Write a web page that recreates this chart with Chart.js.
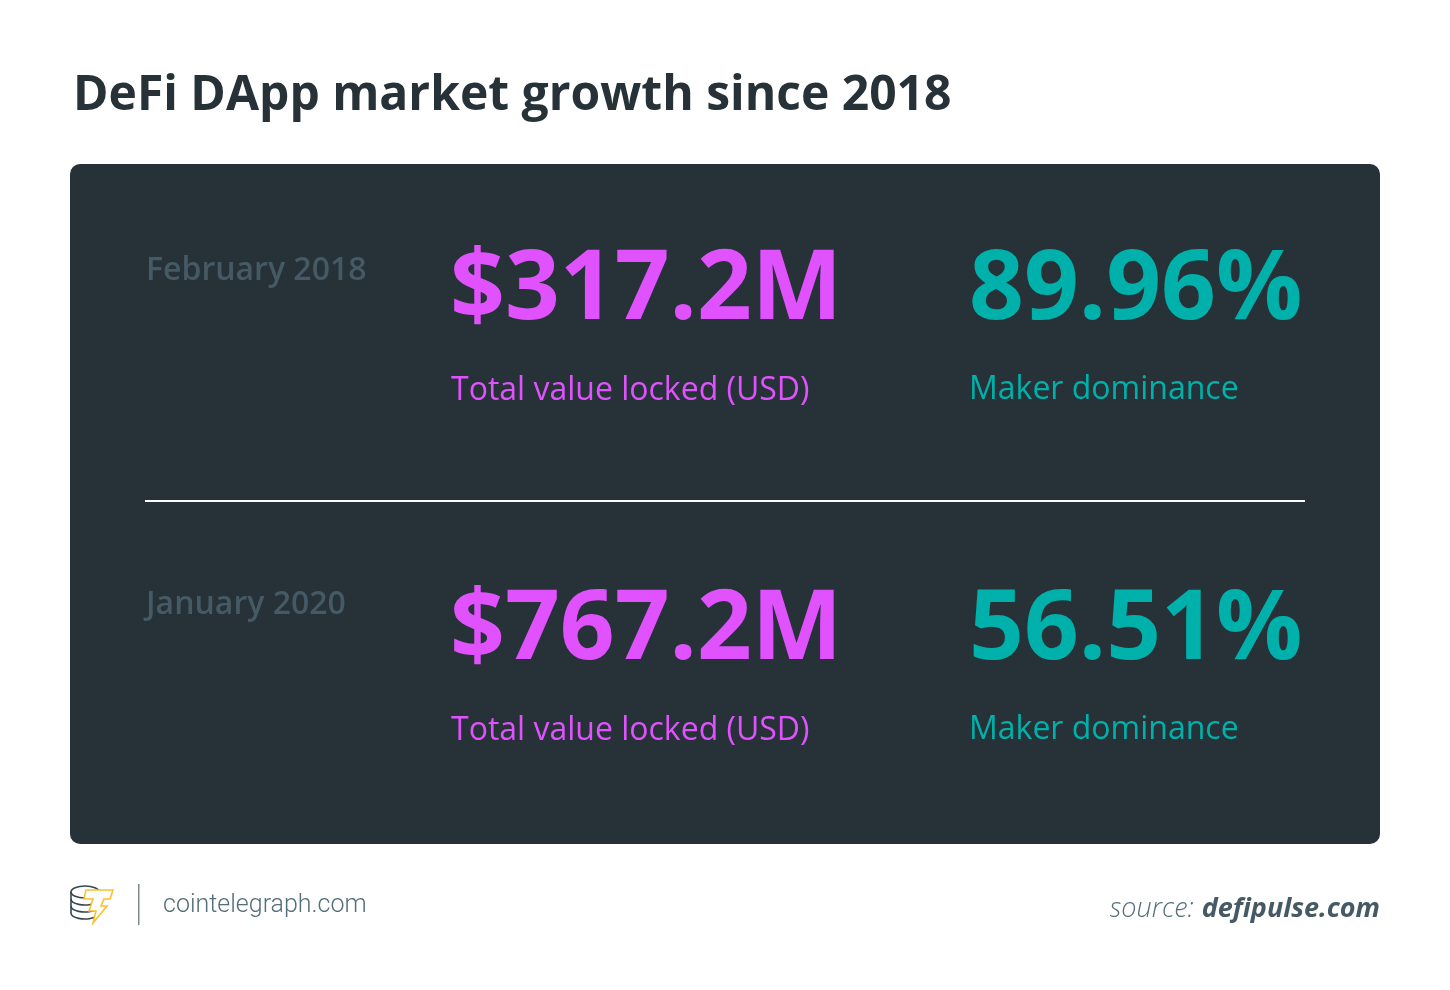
<!DOCTYPE html>
<html>
<head>
<meta charset="utf-8">
<title>DeFi DApp market growth since 2018</title>
<script src="https://cdn.jsdelivr.net/npm/chart.js@4"></script>
<style>
  html, body { margin: 0; background: #fff; }
  canvas { display: block; }
</style>
</head>
<body>
<canvas id="myChart" width="1450" height="990"></canvas>
<script>
const chartTitle = 'DeFi DApp market growth since 2018';
const periods = ['February 2018', 'January 2020'];
const tvlValues = [317.2, 767.2];
const makerValues = [89.96, 56.51];
const tvlLabel = 'Total value locked (USD)';
const makerLabel = 'Maker dominance';

const OPEN = '"Open Sans"';
const DARK = '#263238';
const MAGENTA = '#e052fd';
const TEAL = '#00b0aa';
const dateOffsets = [-54, -60];

function text(ctx, str, x, y, font, color, align) {
    ctx.font = font;
    ctx.fillStyle = color;
    ctx.textAlign = align || 'left';
    ctx.textBaseline = 'alphabetic';
    ctx.fillText(str, x, y);
}

function drawLogo(ctx) {
    // coin stack
    ctx.strokeStyle = '#37474f';
    ctx.lineWidth = 1.6;
    [892, 899, 906, 913].forEach((y, i) => {
        ctx.beginPath();
        if (i === 0) {
            ctx.ellipse(85, y, 14, 6, 0, 0, Math.PI * 2);
        } else {
            ctx.ellipse(85, y, 14, 6, 0, 0.15 * Math.PI, Math.PI);
        }
        ctx.stroke();
    });
    ctx.beginPath();
    ctx.moveTo(71, 892);
    ctx.lineTo(71, 913);
    ctx.stroke();
    // bolt
    ctx.fillStyle = '#fff';
    ctx.strokeStyle = '#fbc02d';
    ctx.lineWidth = 1.6;
    ctx.beginPath();
    ctx.moveTo(86, 890);
    ctx.lineTo(113, 890);
    ctx.lineTo(110, 899);
    ctx.lineTo(104, 899);
    ctx.lineTo(101, 906);
    ctx.lineTo(107, 906);
    ctx.lineTo(93, 923);
    ctx.lineTo(96, 911);
    ctx.lineTo(89, 911);
    ctx.lineTo(93, 899);
    ctx.lineTo(84, 899);
    ctx.closePath();
    ctx.fill();
    ctx.stroke();
    // divider
    ctx.fillStyle = '#808a8f';
    ctx.fillRect(138, 884, 1.5, 41);
}

const cardPlugin = {
    id: 'card',
    beforeDraw(chart) {
        const { ctx, chartArea: a } = chart;
        ctx.save();
        ctx.fillStyle = DARK;
        ctx.beginPath();
        ctx.roundRect(a.left, a.top, a.right - a.left, a.bottom - a.top, 10);
        ctx.fill();
        ctx.fillStyle = '#ffffff';
        ctx.fillRect(145, 500, 1160, 2);
        ctx.restore();
    },
    afterDraw(chart) {
        const { ctx } = chart;
        const tvl = chart.getDatasetMeta(0).data;
        const maker = chart.getDatasetMeta(1).data;
        ctx.save();
        text(ctx, chartTitle, 73, 110, `700 48px ${OPEN}`, DARK);
        periods.forEach((p, i) => {
            const y = tvl[i].y;
            text(ctx, p, 146, y + dateOffsets[i], `600 32px ${OPEN}`, '#455a64');
            text(ctx, `$${tvlValues[i]}M`, 450, y - 15, `700 96px ${OPEN}`, MAGENTA);
            text(ctx, tvlLabel, 451, y + 66, `400 32px ${OPEN}`, MAGENTA);
            text(ctx, `${makerValues[i]}%`, 969, maker[i].y - 15, `700 96px ${OPEN}`, TEAL);
            text(ctx, makerLabel, 969, maker[i].y + 65, `400 32px ${OPEN}`, TEAL);
        });
        drawLogo(ctx);
        text(ctx, 'cointelegraph.com', 163, 912, '300 25px Roboto', '#546e7a');
        text(ctx, 'defipulse.com', 1380, 917, `italic 700 27px ${OPEN}`, '#455a64', 'right');
        const w = ctx.measureText('defipulse.com').width;
        text(ctx, 'source:', 1380 - w - 8, 917, `italic 300 27px ${OPEN}`, '#546e7a', 'right');
        ctx.restore();
    }
};

new Chart(document.getElementById('myChart'), {
    type: 'line',
    data: {
        labels: periods,
        datasets: [
            { label: tvlLabel, data: tvlValues, showLine: false, pointRadius: 0 },
            { label: makerLabel, data: makerValues, showLine: false, pointRadius: 0 }
        ]
    },
    options: {
        indexAxis: 'y',
        responsive: false,
        animation: false,
        layout: { padding: { left: 70, right: 70, top: 164, bottom: 146 } },
        plugins: { legend: { display: false }, tooltip: { enabled: false } },
        scales: {
            x: { display: false, min: 0 },
            y: { display: false, type: 'category', offset: true }
        }
    },
    plugins: [cardPlugin]
});
</script>
</body>
</html>
